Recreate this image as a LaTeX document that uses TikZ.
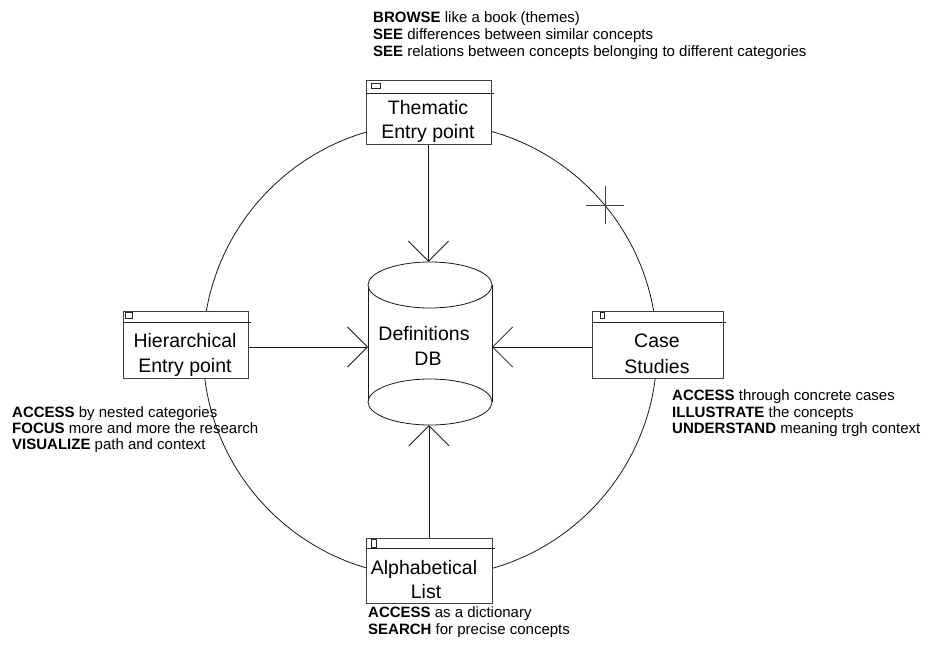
\documentclass[tikz,border=0pt]{standalone}
\usepackage{fontspec}
\setmainfont{Liberation Sans}
\usetikzlibrary{arrows.meta}

\begin{document}
\begin{tikzpicture}[x=1pt,y=-1pt,
  wire/.style={line width=0.8pt, black!90},
  link/.style={wire, -{Straight Barb[length=20pt,width=40pt,line width=0.8pt]}},
  win/.style={draw=black!75, line width=1pt, fill=white, inner sep=0pt},
  icon/.style={draw=black!85, line width=0.8pt},
  lbl/.style={anchor=base, inner sep=0pt, font=\fontsize{19.5}{24}\selectfont},
  note/.style={anchor=base west, inner sep=0pt, font=\fontsize{15}{17}\selectfont},
]
\useasboundingbox (0,0) rectangle (937,650);

% navigation ring linking the four entry points
\node[draw, wire, circle, minimum size=454pt, inner sep=0pt] (ring) at (430,350) {};
\coordinate (tick) at (605,205);
\draw[wire, black!75] ([xshift=-19pt]tick) -- ([xshift=19pt]tick);
\draw[wire, black!75] ([yshift=-19pt]tick) -- ([yshift=19pt]tick);

% database cylinder
\node[inner sep=0pt, minimum width=124pt, minimum height=163pt] (db) at (430,343.5) {};
\fill[white] (368,285) rectangle (492,402);
\draw[wire] (368,285) -- (368,402);
\draw[wire] (492,285) -- (492,402);
\draw[wire, fill=white] (430,285) ellipse [x radius=62, y radius=23];
\draw[wire, fill=white] (430,402) ellipse [x radius=62, y radius=23];
\node[lbl] (dbA) at (424,340) {Definitions};
\node[lbl] (dbB) at (428,365) {DB};
\coordinate (dbL) at (368,347);
\coordinate (dbR) at (492,347);

% entry point windows
\node[win, minimum width=125pt, minimum height=64pt] (them) at (428.5,113) {};
\node[win, minimum width=125pt, minimum height=67pt] (hier) at (185.5,344.5) {};
\node[win, minimum width=131pt, minimum height=67pt] (case) at (657.5,344.5) {};
\node[win, minimum width=126pt, minimum height=65pt] (alph) at (429,570.5) {};

% title bars
\foreach \w/\h in {them/13, hier/12, case/12, alph/11} {
  \draw[icon] ([yshift=-\h pt]\w.north west) -- ([yshift=-\h pt, xshift=2pt]\w.north east);
}
\draw[icon] ([xshift=6pt, yshift=-3pt]them.north west) rectangle ++(9,5);
\draw[icon] ([xshift=3pt, yshift=-2pt]hier.north west) rectangle ++(7,6);
\draw[icon] ([xshift=9pt, yshift=-2pt]case.north west) rectangle ++(4,6);
\draw[icon] ([xshift=6pt, yshift=-2pt]alph.north west) rectangle ++(5,8);

% window captions
\node[lbl] (themA) at (428,115) {Thematic};
\node[lbl] (themB) at (428,139) {Entry point};
\node[lbl] (hierA) at (185,347) {Hierarchical};
\node[lbl] (hierB) at (185,372) {Entry point};
\node[lbl] (caseA) at (657,347) {Case};
\node[lbl] (caseB) at (657,373) {Studies};
\node[lbl] (alphA) at (424,574) {Alphabetical};
\node[lbl] (alphB) at (426,598) {List};

% access paths into the database
\draw[link] (them.south) -- (them.south |- db.north);
\draw[link] (alph.north) -- (alph.north |- db.south);
\draw[link] (hier.east |- dbL) -- (dbL);
\draw[link] (case.west |- dbR) -- (dbR);

% descriptions of each entry point
\node[note] (t1) at (373,22.5) {\textbf{BROWSE} like a book (themes)};
\node[note] (t2) at (373,39.5) {\textbf{SEE} differences between similar concepts};
\node[note] (t3) at (373,56.5) {\textbf{SEE} relations between concepts belonging to different categories};

\node[note] (l1) at (12,417.5) {\textbf{ACCESS} by nested categories};
\node[note] (l2) at (12,433.5) {\textbf{FOCUS} more and more the research};
\node[note] (l3) at (12,449.5) {\textbf{VISUALIZE} path and context};

\node[note] (r1) at (672,400.5) {\textbf{ACCESS} through concrete cases};
\node[note] (r2) at (672,417) {\textbf{ILLUSTRATE} the concepts};
\node[note] (r3) at (672,433.5) {\textbf{UNDERSTAND} meaning trgh context};

\node[note] (b1) at (368,617.5) {\textbf{ACCESS} as a dictionary};
\node[note] (b2) at (368,634) {\textbf{SEARCH} for precise concepts};
\end{tikzpicture}
\end{document}
